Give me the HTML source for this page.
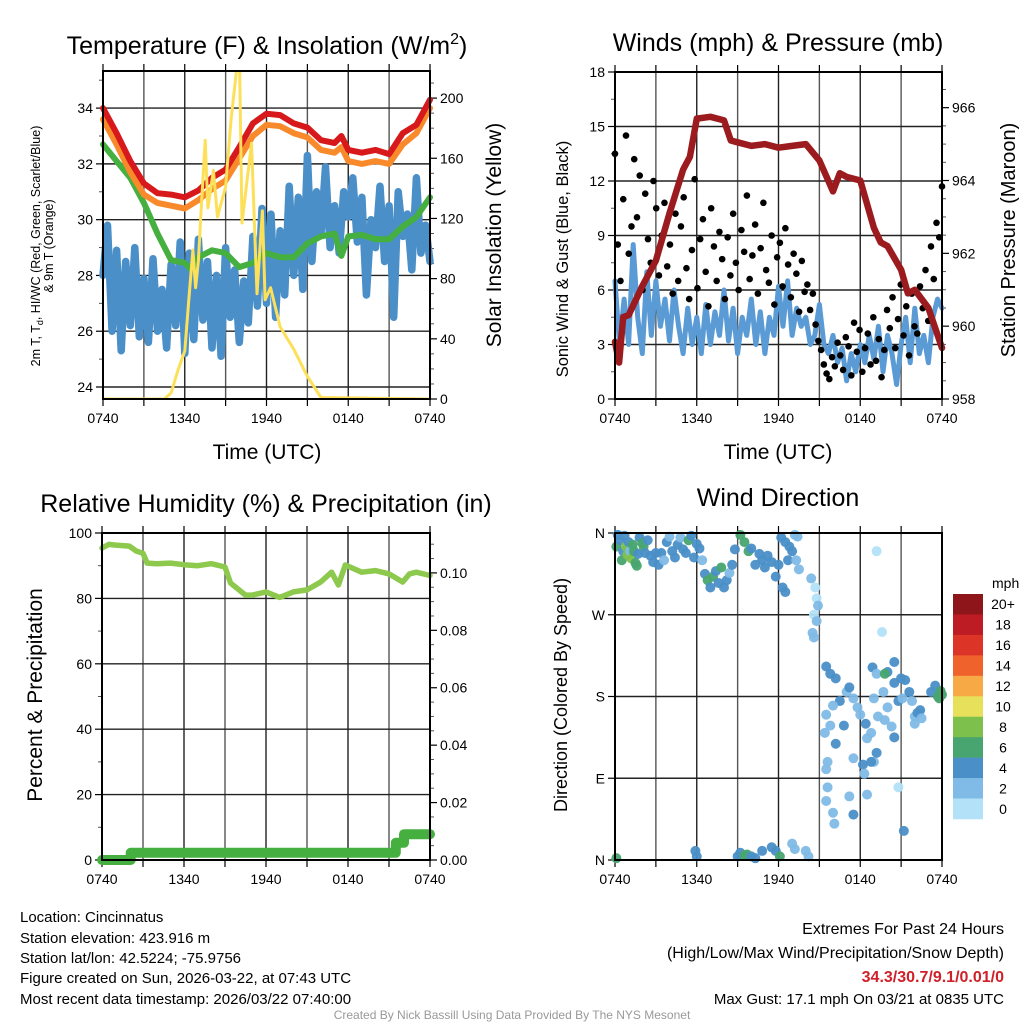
<!DOCTYPE html>
<html><head><meta charset="utf-8">
<style>
body{margin:0;background:#fff;}
svg{display:block;font-family:"Liberation Sans",sans-serif;}
</style></head>
<body>
<svg id="c" width="1024" height="1024" viewBox="0 0 1024 1024" xmlns="http://www.w3.org/2000/svg">
<rect width="1024" height="1024" fill="#fff"/>
<g id="layer"></g>
<text x="267" y="54" font-size="25" text-anchor="middle">Temperature (F) &amp; Insolation (W/m<tspan font-size="16" dy="-10">2</tspan><tspan dy="10">)</tspan></text>
<text x="778" y="51" font-size="25" text-anchor="middle">Winds (mph) &amp; Pressure (mb)</text>
<text x="266" y="512" font-size="25" text-anchor="middle">Relative Humidity (%) &amp; Precipitation (in)</text>
<text x="778" y="506" font-size="25" text-anchor="middle">Wind Direction</text>
<text x="267" y="459" font-size="21" text-anchor="middle">Time (UTC)</text>
<text x="778" y="459" font-size="21" text-anchor="middle">Time (UTC)</text>
<text transform="translate(40,246) rotate(-90)" font-size="12.5" text-anchor="middle">2m T, T<tspan font-size="9" dy="3">d</tspan><tspan dy="-3">, HI/WC (Red, Green, Scarlet/Blue)</tspan></text>
<text transform="translate(53,246) rotate(-90)" font-size="12.5" text-anchor="middle">&amp; 9m T (Orange)</text>
<text transform="translate(501,235) rotate(-90)" font-size="21" text-anchor="middle">Solar Insolation (Yellow)</text>
<text transform="translate(568,259) rotate(-90)" font-size="16.5" text-anchor="middle">Sonic Wind &amp; Gust (Blue, Black)</text>
<text transform="translate(1015,240) rotate(-90)" font-size="20" text-anchor="middle">Station Pressure (Maroon)</text>
<text transform="translate(42,695) rotate(-90)" font-size="21" text-anchor="middle">Percent &amp; Precipitation</text>
<text transform="translate(567,695) rotate(-90)" font-size="18" text-anchor="middle">Direction (Colored By Speed)</text>
<g font-size="15">
<text x="20" y="922">Location: Cincinnatus</text>
<text x="20" y="943">Station elevation: 423.916 m</text>
<text x="20" y="963">Station lat/lon: 42.5224; -75.9756</text>
<text x="20" y="983">Figure created on Sun, 2026-03-22, at 07:43 UTC</text>
<text x="20" y="1004">Most recent data timestamp: 2026/03/22 07:40:00</text>
</g>
<g font-size="16" text-anchor="end">
<text x="1004" y="934">Extremes For Past 24 Hours</text>
<text x="1004" y="958">(High/Low/Max Wind/Precipitation/Snow Depth)</text>
<text x="1004" y="982" fill="#d0202a" font-weight="bold">34.3/30.7/9.1/0.01/0</text>
<text x="1004" y="1004" font-size="15">Max Gust: 17.1 mph On 03/21 at 0835 UTC</text>
</g>
<text x="512" y="1019" font-size="12" fill="#999" text-anchor="middle">Created By Nick Bassill Using Data Provided By The NYS Mesonet</text>
</svg>
<script>
const xTickLabels=["0740","1340","1940","0140","0740"];
const tempRedT=[0,1,2,3,4,5,6,7,8,9,10,11,12,13,14,15,16,17,17.5,18,19,20,21,22,23,24];
const tempRed=[34.0,33.1,32.1,31.3,30.95,30.9,30.8,31.05,31.5,31.8,32.6,33.45,33.8,33.75,33.45,33.3,32.85,32.75,33.0,32.5,32.4,32.5,32.35,33.1,33.4,34.3];
const tempOrange=[33.6,32.7,31.7,30.9,30.6,30.5,30.4,30.7,31.1,31.4,32.2,33.0,33.4,33.35,33.1,32.95,32.5,32.4,32.6,32.1,32.0,32.1,32.0,32.7,33.1,34.0];
const tempGreenT=[0,1,2,3,4,5,6,6.5,7,8,9,10,11,12,13,14,15,16,17,17.5,18,19,20,21,22,23,24];
const tempGreen=[32.7,32.1,31.5,30.6,29.5,28.55,28.45,28.2,28.65,28.9,28.8,28.3,28.45,28.8,28.65,28.65,29.15,29.4,29.5,28.7,29.4,29.45,29.3,29.3,29.75,30.1,30.8];
const dewBlue=[28.0,29.8,26.0,28.9,25.3,28.5,26.2,29.0,25.8,27.9,25.6,28.6,26.0,27.5,25.4,28.4,26.2,29.2,25.2,28.8,25.7,29.3,26.4,28.5,25.4,28.0,25.1,29.0,26.5,28.2,25.6,27.8,26.3,29.4,26.9,30.4,27.0,30.2,26.5,29.6,27.3,31.2,28.0,30.8,27.5,32.3,28.5,31.0,29.5,31.9,29.0,30.5,28.8,31.0,30.1,31.5,29.2,30.8,27.3,30.0,29.0,31.2,28.5,30.5,26.5,31.0,29.4,30.2,28.2,31.5,28.8,29.8,28.5];
const solarT=[0,4.5,5,5.5,6,6.3,6.6,6.8,7,7.2,7.5,7.7,8.1,8.4,9,9.4,10,10.2,10.9,11.3,11.7,11.9,12.3,13,14,15,16,24];
const solarVals=[0,0,4,19,32,66,99,74,92,125,172,127,152,121,141,186,235,117,170,70,125,66,74,48,33,15,1,0];
const windBlue=[6.5,3.0,5.5,3.0,8.5,4.5,2.5,7.0,3.5,6.5,4.0,5.5,3.2,6.0,4.0,2.5,5.0,3.0,4.5,2.5,5.2,3.0,4.8,3.5,6.0,3.2,5.0,2.5,4.5,3.5,5.5,3.0,4.8,2.5,4.5,3.5,6.2,4.0,6.5,3.5,5.0,4.0,4.5,3.0,3.5,5.2,3.0,2.5,3.5,2.0,2.8,1.0,2.5,1.5,3.0,2.0,3.5,2.2,4.0,1.5,3.5,2.5,0.8,3.0,4.5,2.0,5.0,2.5,3.5,2.0,4.5,5.5,5.0];
const gustVals=[13.5,8.5,6.5,11,14.5,8,9.5,13.2,10,12.3,6,11.3,8.8,7.5,12,10.5,6.8,9,10.8,7.3,8.5,5.8,10.2,6.5,9.5,11.1,7.2,5.5,8.2,12.1,6.1,8.8,9.9,7.0,5.1,10.5,8.4,6.5,9.2,7.7,5.5,8.9,6.8,10.2,7.5,6.0,9.3,8.1,11.2,6.6,7.9,9.6,5.8,8.3,10.8,7.1,6.4,9.0,5.2,7.8,8.6,6.2,9.4,7.4,5.6,8.0,6.9,4.8,7.6,5.9,6.3,4.9,5.8,4.1,3.2,2.7,1.9,1.4,1.1,2.3,1.8,3.1,2.4,1.6,3.4,2.9,1.3,4.2,2.6,3.8,1.5,2.8,3.6,1.9,4.5,2.1,3.3,1.2,2.7,4.9,3.9,5.6,2.8,4.4,6.3,3.5,5.1,2.4,5.8,4.0,3.6,6.2,5.0,7.1,4.3,8.4,6.6,9.7,8.9,11.7];
const presT=[0,0.3,0.6,1,2,3,4,5,5.5,6,7,8,8.5,9,10,11,12,13,14,15,16,16.5,17,18,19,19.5,20,21,21.5,22,23,24];
const presVals=[959.57,959.0,960.25,960.3,961.1,961.8,963.1,964.3,964.65,965.7,965.75,965.65,965.1,965.05,964.95,965.0,964.9,964.95,965.0,964.55,963.7,964.2,964.1,964.0,962.7,962.3,962.2,961.55,960.9,961.0,960.5,959.4];
const rhT=[0,0.5,1,2,2.5,3,3.3,4,5,6,7,8,9,9.4,10.5,11,12,13,14,15,16,16.8,17.3,17.8,19,20,21,22,22.5,23,24];
const rhVals=[95.4,96.5,96.3,96.0,94.5,93.8,90.8,90.6,90.8,90.3,90.0,90.6,89.6,84.7,81.0,81.0,82.0,80.3,82.0,82.6,85.0,88.0,84.1,90.2,88.0,88.5,87.5,85.0,87.5,88.0,87.0];
const precipT=[0,2.1,2.1,21.5,21.5,22.1,22.1,24];
const precipVals=[0,0,0.0025,0.0025,0.006,0.006,0.009,0.009];
const dirT=[0.1,0.2,0.4,0.5,0.6,0.7,0.8,0.9,1.0,1.1,1.2,1.3,1.4,1.5,1.6,1.7,1.8,2.0,2.1,2.2,2.4,2.6,2.8,3.0,3.2,3.4,3.6,3.8,4.0,4.2,4.4,4.6,4.8,5.0,5.2,5.4,5.6,5.8,6.0,6.2,6.4,6.6,6.8,7.0,7.2,7.4,7.6,7.8,8.0,8.2,8.4,8.6,8.8,0.1,5.9,6.0,9.0,9.2,9.5,9.7,10.0,10.3,10.8,11.5,11.8,12.1,13.0,13.2,14.0,14.2,9.2,9.5,9.8,10.0,10.3,10.6,10.8,11.0,11.2,11.5,11.8,12.0,12.3,12.5,12.7,12.2,12.5,12.8,13.0,13.3,13.5,13.2,13.4,14.4,14.7,14.8,14.9,14.6,14.8,14.5,14.6,15.5,15.8,16.2,16.5,16.0,15.5,15.4,15.8,16.2,16.8,17.0,17.2,17.5,17.8,18.0,18.4,18.5,18.8,19.0,19.3,19.7,18.9,19.2,19.8,20.3,20.0,20.5,20.8,21.0,21.3,21.1,21.6,21.8,22.0,22.2,22.4,22.0,22.5,23.2,23.5,23.7,23.9,23.8,20.0,20.5,19.8,15.5,15.6,15.5,16.0,16.1,17.2,17.5,18.5,20.8,21.2,15.6,17.5,18.2,19.0,18.3,18.8,19.2,20.5,19.2,19.6,23.9,24.0];
const dirVals=[345,358,352,330,340,357,345,336,350,340,332,347,340,327,324,337,355,349,345,338,352,335,328,338,325,338,330,350,356,340,333,347,355,342,338,352,357,333,348,343,330,315,308,300,312,318,305,322,300,308,316,325,342,2,10,4,4,8,5,6,4,2,10,14,10,4,18,12,10,4,358,350,340,343,325,337,330,322,335,328,312,325,300,295,330,355,350,345,340,330,320,358,356,310,300,288,280,270,263,250,245,213,205,200,175,170,160,140,148,128,148,185,190,178,168,160,150,134,140,178,158,185,212,205,154,147,168,195,175,200,198,178,185,175,158,162,165,150,156,185,192,180,183,178,207,218,205,100,80,65,52,40,70,50,72,80,32,108,112,105,108,95,108,118,135,340,251,186,182];
const dirSpd=[6,4,4,6,4,4,8,8,4,2,8,6,6,6,6,4,4,6,6,4,4,4,4,4,4,4,2,4,2,4,4,4,2,4,4,6,4,4,4,4,2,4,6,4,6,4,4,6,4,4,2,4,4,6,4,4,4,4,6,6,4,4,4,4,4,6,2,2,2,2,6,6,6,4,4,4,4,4,4,4,4,4,4,4,4,4,4,4,4,2,2,2,2,2,0,0,2,0,2,2,2,4,4,4,4,2,2,2,2,4,4,2,4,2,2,2,4,2,2,2,2,2,4,2,2,2,2,4,4,4,4,2,4,2,2,4,4,2,2,4,4,6,6,6,4,4,6,2,2,2,2,2,2,4,2,0,4,2,2,4,2,2,4,4,4,0,0,6,6];
const cbLabels=["20+","18","16","14","12","10","8","6","4","2","0"];
const cbColors=["#8e1519","#bd1c24","#dc3427","#f0622c","#f7a945","#e6e05a","#7dc14c","#48a56f","#4a8fc7","#7fbbe6","#b3e2f8"];

const NS="http://www.w3.org/2000/svg";
const L=document.getElementById('layer');
function mk(tag,attrs,parent){const e=document.createElementNS(NS,tag);for(const k in attrs)e.setAttribute(k,attrs[k]);(parent||L).appendChild(e);return e;}
function lin(d0,d1,r0,r1){return v=>r0+(v-d0)/(d1-d0)*(r1-r0);}
function spdColor(s){const i=Math.min(10,Math.floor(s/2));return cbColors[10-i];}

const P1={x0:103,x1:430,y0:71,y1:399},P2={x0:615,x1:942,y0:72,y1:399},P3={x0:102,x1:430,y0:533,y1:860},P4={x0:615,x1:942,y0:533,y1:860};

function frame(P,name,hvals,hy,leftTicks,leftLabels,leftY,minorL,rightTicks,rightLabels,rightY,minorR){
  const g=mk('g',{});
  
  
  const X=lin(0,24,P.x0,P.x1);
  for(let h=3;h<24;h+=3){const ln=mk('line',{x1:X(h),x2:X(h),y1:P.y0,y2:P.y1,stroke:h%6?'#555':'#222','stroke-width':1.4},g);}
  hvals.forEach(v=>{const ln=mk('line',{x1:P.x0,x2:P.x1,y1:hy(v),y2:hy(v),stroke:'#222','stroke-width':1.4},g);});
  for(let h=0;h<=24;h+=3){mk('line',{x1:X(h),x2:X(h),y1:P.y1,y2:P.y1+7,stroke:'#000','stroke-width':1.2},g);}
  for(let h=0;h<=24;h+=3){mk('line',{x1:X(h),x2:X(h),y1:P.y0,y2:P.y0-7,stroke:'#000','stroke-width':1.2},g);}
  xTickLabels.forEach((t,i)=>{const tx=mk('text',{x:X(i*6),y:P.y1+24,'font-size':14,'text-anchor':'middle'},g);tx.textContent=t;});
  leftTicks.forEach((v,i)=>{mk('line',{x1:P.x0-7,x2:P.x0,y1:leftY(v),y2:leftY(v),stroke:'#000','stroke-width':1.2},g);
    if(leftLabels[i]!==''){const tx=mk('text',{x:P.x0-10,y:leftY(v)+5,'font-size':14,'text-anchor':'end'},g);tx.textContent=leftLabels[i];}});
  minorL.forEach(v=>mk('line',{x1:P.x0-4,x2:P.x0,y1:leftY(v),y2:leftY(v),stroke:'#555','stroke-width':1},g));
  if(rightTicks){rightTicks.forEach((v,i)=>{mk('line',{x1:P.x1,x2:P.x1+7,y1:rightY(v),y2:rightY(v),stroke:'#000','stroke-width':1.2},g);
    const tx=mk('text',{x:P.x1+10,y:rightY(v)+5,'font-size':14},g);tx.textContent=rightLabels[i];});
    minorR.forEach(v=>mk('line',{x1:P.x1,x2:P.x1+4,y1:rightY(v),y2:rightY(v),stroke:'#555','stroke-width':1},g));}
  return g;
}
function border(P){const r=mk('rect',{x:P.x0,y:P.y0,width:P.x1-P.x0,height:P.y1-P.y0,fill:'none',stroke:'#000','stroke-width':2});}
function path(ts,vs,X,Y,col,w,name){
  const d=vs.map((v,i)=>(i?'L':'M')+X(ts[i]).toFixed(1)+','+Y(v).toFixed(1)).join('');
  const p=mk('path',{d:d,fill:'none',stroke:col,'stroke-width':w,'stroke-linejoin':'round','stroke-linecap':'round'});
  
  
  return p;
}
function even(n){return Array.from({length:n},(_,i)=>i/(n-1)*24);}

// Panel 1
{
  const X=lin(0,24,P1.x0,P1.x1);
  const Y=lin(23.57,35.33,P1.y1,P1.y0);
  const YR=lin(0,218,P1.y1,P1.y0);
  frame(P1,'temperature-panel',[24,26,28,30,32,34],Y,[24,26,28,30,32,34],['24','26','28','30','32','34'],Y,[25,27,29,31,33,35],[0,40,80,120,160,200],['0','40','80','120','160','200'],YR,[10,20,30,50,60,70,90,100,110,130,140,150,170,180,190,210]);
  const cp=mk('clipPath',{id:'cp1'});mk('rect',{x:P1.x0,y:P1.y0,width:P1.x1-P1.x0,height:P1.y1-P1.y0},cp);
  path(even(dewBlue.length),dewBlue,X,Y,'#4a8fc7',7.5,'dewpoint-line');
  path(tempGreenT,tempGreen,X,Y,'#45b03f',6,'green-temp-line');
  path(tempRedT,tempOrange,X,Y,'#f98a2b',6,'orange-9m-temp-line');
  path(tempRedT,tempRed,X,Y,'#d7191c',6,'red-2m-temp-line');
  const sp=path(solarT,solarVals,X,YR,'#fde05a',3,'solar-insolation-line');sp.setAttribute('clip-path','url(#cp1)');
  border(P1);
}
// Panel 2
{
  const X=lin(0,24,P2.x0,P2.x1);
  const Y=lin(0,18,P2.y1,P2.y0);
  const YR=lin(958,966.98,P2.y1,P2.y0);
  frame(P2,'winds-panel',[3,6,9,12,15],Y,[0,3,6,9,12,15,18],['0','3','6','9','12','15','18'],Y,[1.5,4.5,7.5,10.5,13.5,16.5],[958,960,962,964,966],['958','960','962','964','966'],YR,[958.5,959,959.5,960.5,961,961.5,962.5,963,963.5,964.5,965,965.5,966.5]);
  path(even(windBlue.length),windBlue,X,Y,'#5b9bd5',5,'sonic-wind-line');
  const gt=even(gustVals.length);
  gustVals.forEach((v,i)=>{const c=mk('circle',{cx:X(gt[i]),cy:Y(v),r:3.3,fill:'#000'});
    
    });
  path(presT,presVals,X,YR,'#9b1b1e',6.5,'pressure-line');
  border(P2);
}
// Panel 3
{
  const X=lin(0,24,P3.x0,P3.x1);
  const Y=lin(0,100,P3.y1,P3.y0);
  const YR=lin(0,0.1139,P3.y1,P3.y0);
  frame(P3,'humidity-panel',[20,40,60,80],Y,[0,20,40,60,80,100],['0','20','40','60','80','100'],Y,[10,30,50,70,90],[0,0.02,0.04,0.06,0.08,0.1],['0.00','0.02','0.04','0.06','0.08','0.10'],YR,[0.005,0.01,0.015,0.025,0.03,0.035,0.045,0.05,0.055,0.065,0.07,0.075,0.085,0.09,0.095,0.105,0.11]);
  path(rhT,rhVals,X,Y,'#8dc94c',5.5,'relative-humidity-line');
  path(precipT,precipVals,X,YR,'#45b03f',10,'precipitation-line');
  border(P3);
}
// Panel 4
{
  const X=lin(0,24,P4.x0,P4.x1);
  const Y=lin(0,360,P4.y1,P4.y0);
  frame(P4,'wind-direction-panel',[90,180,270],Y,[0,90,180,270,360],['N','E','S','W','N'],Y,[],null,null,null,null);
  dirVals.forEach((v,i)=>{const c=mk('circle',{cx:X(dirT[i]),cy:Y(v),r:5,fill:spdColor(dirSpd[i]),opacity:0.95});
    
    });
  border(P4);
  const cb=mk('g',{});
  
  
  const t=mk('text',{x:992,y:588,'font-size':14},cb);t.textContent='mph';
  const bh=(819-594)/11;
  cbColors.forEach((col,i)=>{mk('rect',{x:953,y:594+i*bh,width:30,height:bh+0.3,fill:col},cb);
    const tx=mk('text',{x:1003,y:594+i*bh+bh/2+5,'font-size':14,'text-anchor':'middle'},cb);tx.textContent=cbLabels[i];
    
    });
}
</script>
</body></html>
